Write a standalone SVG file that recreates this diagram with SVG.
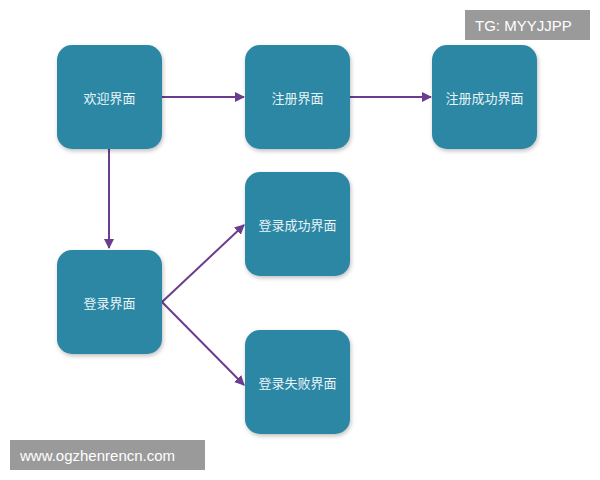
<svg xmlns="http://www.w3.org/2000/svg" width="600" height="480" viewBox="0 0 600 480">
<style>
.n{fill:#2b87a3;filter:drop-shadow(1px 2px 2px rgba(0,0,0,0.25))}
.t{fill:#e8f4f8;font-family:"Noto Sans CJK SC",sans-serif;font-size:13px;text-anchor:middle;dominant-baseline:central}
.c{stroke:#6b3d8e;stroke-width:2;fill:none;marker-end:url(#a)}
.w{fill:#ffffff;font-family:"Liberation Sans",sans-serif;font-size:15px;dominant-baseline:central}
</style>
<defs><marker id="a" markerWidth="10" markerHeight="10" refX="9" refY="5" orient="auto" markerUnits="userSpaceOnUse"><path d="M0,0 L10,5 L0,10 z" fill="#6b3d8e"/></marker></defs>
<rect width="600" height="480" fill="#fff"/>
<g id="connectors">
<line class="c" x1="162" y1="97" x2="244" y2="97"/>
<line class="c" x1="350" y1="97" x2="431" y2="97"/>
<line class="c" x1="109" y1="148" x2="109" y2="248"/>
<line class="c" x1="162" y1="302" x2="244" y2="225"/>
<line class="c" x1="162" y1="302" x2="244" y2="385"/>
</g>
<g id="n1"><rect class="n" x="57" y="45" width="105" height="104" rx="15"/><text class="t" x="109.5" y="97">欢迎界面</text></g>
<g id="n2"><rect class="n" x="245" y="45" width="105" height="104" rx="15"/><text class="t" x="297.5" y="97">注册界面</text></g>
<g id="n3"><rect class="n" x="432" y="45" width="105" height="104" rx="15"/><text class="t" x="484.5" y="97">注册成功界面</text></g>
<g id="n4"><rect class="n" x="57" y="250" width="105" height="104" rx="15"/><text class="t" x="109.5" y="302">登录界面</text></g>
<g id="n5"><rect class="n" x="245" y="172" width="105" height="104" rx="15"/><text class="t" x="297.5" y="224">登录成功界面</text></g>
<g id="n6"><rect class="n" x="245" y="330" width="105" height="104" rx="15"/><text class="t" x="297.5" y="382">登录失败界面</text></g>
<g id="wm1"><rect x="465" y="10" width="125" height="30" fill="#9a9a9a"/><text class="w" x="475" y="25">TG: MYYJJPP</text></g>
<g id="wm2"><rect x="10" y="440" width="195" height="30" fill="#9a9a9a"/><text class="w" x="20" y="455">www.ogzhenrencn.com</text></g>
</svg>
